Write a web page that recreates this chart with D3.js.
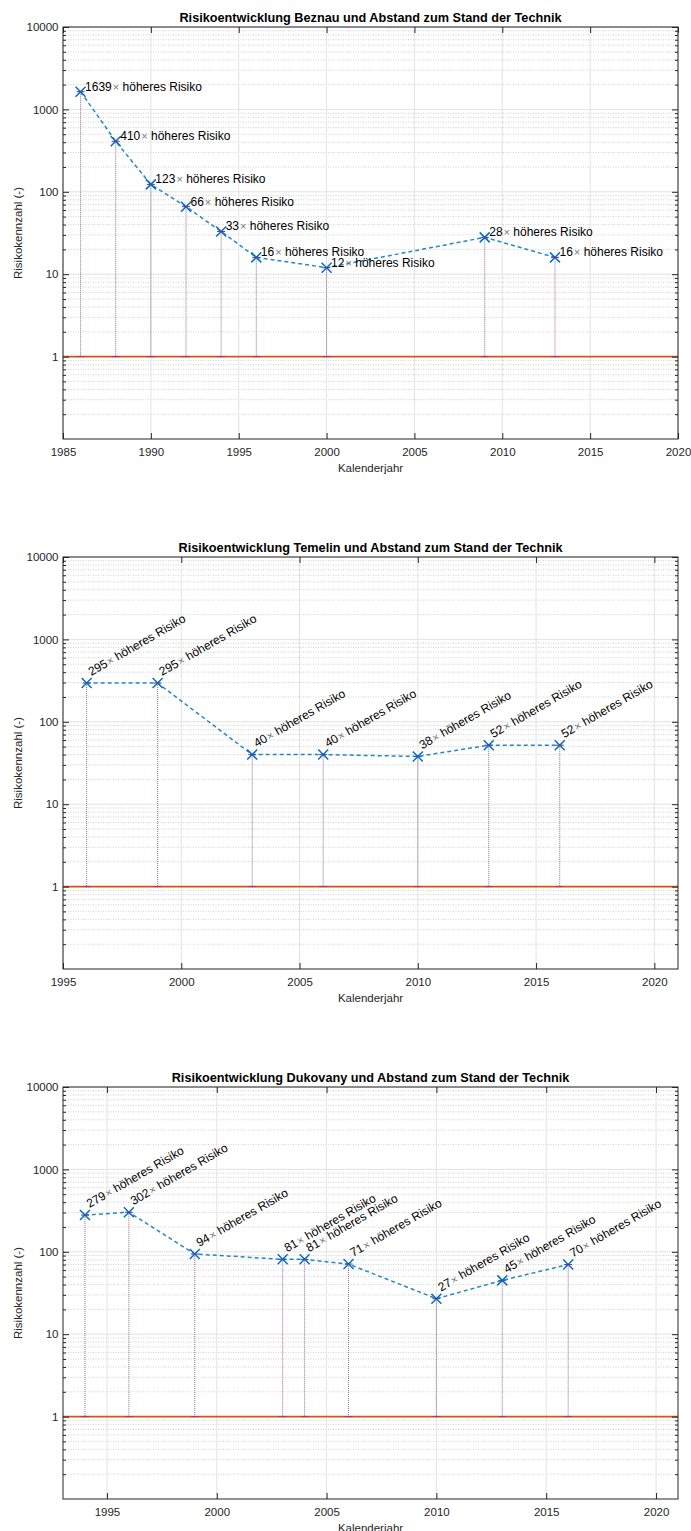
<!DOCTYPE html>
<html>
<head>
<meta charset="utf-8">
<script src="https://cdn.jsdelivr.net/npm/d3@7"></script>
<style>
  html, body { margin: 0; padding: 0; background: #fff; }
  svg { display: block; }
  text { font-family: "Liberation Sans", Arial, Helvetica, sans-serif; }
</style>
</head>
<body>
<svg id="chart" width="691" height="1531"></svg>
<script>
// ---- Data ----
const titles = [
  "Risikoentwicklung Beznau und Abstand zum Stand der Technik",
  "Risikoentwicklung Temelin und Abstand zum Stand der Technik",
  "Risikoentwicklung Dukovany und Abstand zum Stand der Technik"
];
const beznauYears  = [1986, 1988, 1990, 1992, 1994, 1996, 2000, 2009, 2013];
const beznauValues = [1639, 410, 123, 66, 33, 16, 12, 28, 16];
const temelinYears  = [1996, 1999, 2003, 2006, 2010, 2013, 2016];
const temelinValues = [295, 295, 40, 40, 38, 52, 52];
const dukovanyYears  = [1994, 1996, 1999, 2003, 2004, 2006, 2010, 2013, 2016];
const dukovanyValues = [279, 302, 94, 81, 81, 71, 27, 45, 70];
const beznauXDomain   = [1985, 2020];
const temelinXDomain  = [1995, 2021];
const dukovanyXDomain = [1993, 2021];
const beznauXTicks   = [1985, 1990, 1995, 2000, 2005, 2010, 2015, 2020];
const temelinXTicks  = [1995, 2000, 2005, 2010, 2015, 2020];
const dukovanyXTicks = [1995, 2000, 2005, 2010, 2015, 2020];
const yDomain = [0.1, 10000];
const yTicks = [1, 10, 100, 1000, 10000];
const yTickLabels = ["1", "10", "100", "1000", "10000"];
const referenceLevel = [1];
const labelSuffix = " höheres Risiko";
const xLabel = "Kalenderjahr";
const yLabel = "Risikokennzahl (-)";

// ---- Drawing ----
const svg = d3.select("#chart");
const AX = "#262626";
const BLUE = "#0072BD";
const PURPLE = "#7E2F8E";
const ORANGE = "#D95319";

const configs = [
  { title: titles[0], years: beznauYears, values: beznauValues, xDomain: beznauXDomain, xTicks: beznauXTicks, rotate: 0 },
  { title: titles[1], years: temelinYears, values: temelinValues, xDomain: temelinXDomain, xTicks: temelinXTicks, rotate: -30 },
  { title: titles[2], years: dukovanyYears, values: dukovanyValues, xDomain: dukovanyXDomain, xTicks: dukovanyXTicks, rotate: -30 }
];

configs.forEach((cfg, i) => {
  const left = 63, right = 678;
  const top = 27 + i * 530, bottom = top + 412;
  const g = svg.append("g");
  const x = d3.scaleLinear().domain(cfg.xDomain).range([left, right]);
  const y = d3.scaleLog().domain(yDomain).range([bottom, top]);

  // minor values
  const minors = [];
  for (let e = -1; e < 4; e++) for (let m = 2; m <= 9; m++) minors.push(m * Math.pow(10, e));

  // grid
  g.append("g").selectAll("line").data(minors).join("line")
    .attr("x1", left).attr("x2", right)
    .attr("y1", d => y(d)).attr("y2", d => y(d))
    .attr("stroke", "#c4c4c4").attr("stroke-width", 0.8).attr("stroke-dasharray", "1,1.5");
  g.append("g").selectAll("line").data(yTicks).join("line")
    .attr("x1", left).attr("x2", right)
    .attr("y1", d => y(d)).attr("y2", d => y(d))
    .attr("stroke", "#e3e3e3").attr("stroke-width", 1);
  g.append("g").selectAll("line").data(cfg.xTicks).join("line")
    .attr("x1", d => x(d)).attr("x2", d => x(d))
    .attr("y1", top).attr("y2", bottom)
    .attr("stroke", "#e3e3e3").attr("stroke-width", 1);

  // reference line
  g.append("g").selectAll("line").data(referenceLevel).join("line")
    .attr("x1", left).attr("x2", right)
    .attr("y1", d => y(d)).attr("y2", d => y(d))
    .attr("stroke", ORANGE).attr("stroke-width", 1.8);

  const pts = cfg.years.map((yr, j) => ({ yr, v: cfg.values[j] }));

  // stems (error bars down to reference)
  const stems = g.append("g").selectAll("g").data(pts).join("g");
  stems.append("line")
    .attr("x1", d => x(d.yr)).attr("x2", d => x(d.yr))
    .attr("y1", d => y(d.v)).attr("y2", y(referenceLevel[0]))
    .attr("stroke", PURPLE).attr("stroke-width", 1).attr("stroke-dasharray", "1,1").attr("opacity", 0.75);
  stems.append("line")
    .attr("x1", d => x(d.yr) - 4).attr("x2", d => x(d.yr) + 4)
    .attr("y1", y(referenceLevel[0])).attr("y2", y(referenceLevel[0]))
    .attr("stroke", PURPLE).attr("stroke-width", 1).attr("opacity", 0.6);
  stems.append("line")
    .attr("x1", d => x(d.yr) - 4).attr("x2", d => x(d.yr) + 4)
    .attr("y1", d => y(d.v)).attr("y2", d => y(d.v))
    .attr("stroke", PURPLE).attr("stroke-width", 1);

  // dashed line
  const line = d3.line().x(d => x(d.yr)).y(d => y(d.v));
  g.append("path").datum(pts).attr("d", line)
    .attr("fill", "none").attr("stroke", BLUE).attr("stroke-width", 1.5)
    .attr("stroke-dasharray", "4,3").attr("opacity", 0.85);

  // markers
  const s = 5;
  g.append("g").selectAll("path").data(pts).join("path")
    .attr("d", d => {
      const cx = x(d.yr), cy = y(d.v);
      return `M${cx - s},${cy - s}L${cx + s},${cy + s}M${cx - s},${cy + s}L${cx + s},${cy - s}`;
    })
    .attr("stroke", BLUE).attr("stroke-width", 1.5).attr("fill", "none");
  g.append("g").selectAll("line").data(pts).join("line")
    .attr("x1", d => x(d.yr) - 2).attr("x2", d => x(d.yr) + 2)
    .attr("y1", d => y(d.v)).attr("y2", d => y(d.v))
    .attr("stroke", PURPLE).attr("stroke-width", 1);

  // labels
  const lab = g.append("g").selectAll("text").data(pts).join("text")
    .attr("transform", d => cfg.rotate === 0
      ? `translate(${x(d.yr) + 4.5},${y(d.v) - 1})`
      : `translate(${x(d.yr) + 4.5},${y(d.v) - 7}) rotate(${cfg.rotate})`)
    .attr("font-size", 12).attr("fill", "#000");
  lab.append("tspan").text(d => d.v);
  lab.append("tspan").attr("fill", "#777").attr("font-size", 11).attr("dx", 1).text("×");
  lab.append("tspan").text(labelSuffix);

  // axes box
  g.append("rect").attr("x", left).attr("y", top).attr("width", right - left).attr("height", bottom - top)
    .attr("fill", "none").attr("stroke", AX).attr("stroke-width", 1);

  // x axis
  const xb = g.append("g").attr("transform", `translate(0,${bottom})`)
    .call(d3.axisBottom(x).tickValues(cfg.xTicks).tickFormat(d3.format("d")).tickSizeInner(-6).tickSizeOuter(0).tickPadding(8.5));
  xb.select(".domain").remove();
  xb.selectAll("line").attr("stroke", AX);
  xb.selectAll("text").attr("font-size", 11.5).attr("fill", AX).attr("font-family", "Liberation Sans, Arial, sans-serif");
  const xt = g.append("g").attr("transform", `translate(0,${top})`)
    .call(d3.axisTop(x).tickValues(cfg.xTicks).tickFormat("").tickSizeInner(-6).tickSizeOuter(0));
  xt.select(".domain").remove();
  xt.selectAll("line").attr("stroke", AX);

  // y axis
  const yl = g.append("g").attr("transform", `translate(${left},0)`)
    .call(d3.axisLeft(y).tickValues(yTicks).tickFormat((d, k) => yTickLabels[k]).tickSizeInner(-6).tickSizeOuter(0).tickPadding(4.5));
  yl.select(".domain").remove();
  yl.selectAll("line").attr("stroke", AX);
  yl.selectAll("text").attr("font-size", 11.5).attr("fill", AX).attr("font-family", "Liberation Sans, Arial, sans-serif");
  const ylm = g.append("g").attr("transform", `translate(${left},0)`)
    .call(d3.axisLeft(y).tickValues(minors).tickFormat("").tickSizeInner(-3).tickSizeOuter(0));
  ylm.select(".domain").remove();
  ylm.selectAll("line").attr("stroke", AX);
  const yr = g.append("g").attr("transform", `translate(${right},0)`)
    .call(d3.axisRight(y).tickValues(yTicks).tickFormat("").tickSizeInner(-6).tickSizeOuter(0));
  yr.select(".domain").remove();
  yr.selectAll("line").attr("stroke", AX);
  const yrm = g.append("g").attr("transform", `translate(${right},0)`)
    .call(d3.axisRight(y).tickValues(minors).tickFormat("").tickSizeInner(-3).tickSizeOuter(0));
  yrm.select(".domain").remove();
  yrm.selectAll("line").attr("stroke", AX);

  // titles & labels
  g.append("text").attr("x", (left + right) / 2).attr("y", top - 5.5)
    .attr("text-anchor", "middle").attr("font-size", 12.7).attr("font-weight", "bold").attr("fill", "#000")
    .text(cfg.title);
  g.append("text").attr("x", (left + right) / 2).attr("y", bottom + 32.5)
    .attr("text-anchor", "middle").attr("font-size", 11.5).attr("fill", AX)
    .text(xLabel);
  g.append("text").attr("transform", `translate(22,${(top + bottom) / 2}) rotate(-90)`)
    .attr("text-anchor", "middle").attr("font-size", 11.5).attr("fill", AX)
    .text(yLabel);
});
</script>
</body>
</html>
